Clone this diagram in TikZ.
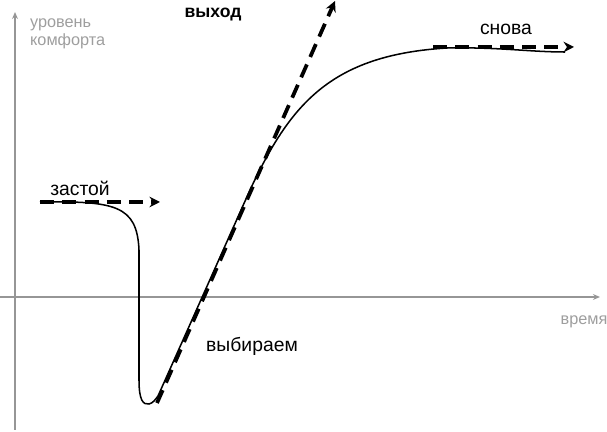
\documentclass[tikz,border=0pt]{standalone}
\usepackage{fontspec}
\setmainfont{Liberation Sans}
\usetikzlibrary{arrows.meta}

\begin{document}
\begin{tikzpicture}[
  x=0.03cm, y=-0.03cm,
  axis/.style={draw=axisgray, line width=1.1pt, -{Stealth[length=6pt, width=5pt]}},
  trend/.style={line width=3.2pt, dash pattern=on 12pt off 7pt, -{Stealth[length=9pt, width=9pt, inset=3pt]}},
  curve/.style={line width=1.3pt},
  lbl/.style={font=\fontsize{16.5}{18}\selectfont},
  axlbl/.style={text=labelgray, font=\fontsize{13.9}{15.5}\selectfont, align=left}
]
\definecolor{axisgray}{RGB}{150,150,150}
\definecolor{labelgray}{RGB}{158,158,158}
\useasboundingbox (0,0) rectangle (607,432);

% Axes
\coordinate (yfoot) at (15,430);
\coordinate (ytop) at (15,12);
\coordinate (xfoot) at (0,297);
\coordinate (xtip) at (600,297);
\draw[axis] (yfoot) -- (ytop);
\draw[axis] (xfoot) -- (xtip);
\node[axlbl, anchor=west] (comfort) at (26,34) {уровень\\комфорта};
\node[axlbl] (time) at (584,322) {время};

% Comfort curve
\draw[curve] (40,202) .. controls (115,201) and (137,205) .. (139,250)
  -- (139,380) .. controls (139,400) and (143,405) .. (149,404)
  .. controls (153,403) and (155,400) .. (158,396)
  -- (250,190) .. controls (290,105) and (330,55) .. (447,48)
  .. controls (500,47) and (530,52) .. (565,52);

% Trend arrows
\coordinate (stagA) at (40,202);
\coordinate (stagB) at (160,202);
\coordinate (riseA) at (157,403);
\coordinate (riseB) at (335,1);
\coordinate (againA) at (433,47);
\coordinate (againB) at (574,47);
\draw[trend] (stagA) -- (stagB);
\draw[trend] (riseA) -- (riseB);
\draw[trend] (againA) -- (againB);

% Stage labels
\node[lbl] (stag) at (80,188) {застой};
\node[lbl, font=\fontsize{15}{17}\selectfont\bfseries] (exit) at (213,15) {выход};
\node[lbl] (again) at (506,29) {снова};
\node[lbl] (choose) at (252,346) {выбираем};

\end{tikzpicture}
\end{document}
